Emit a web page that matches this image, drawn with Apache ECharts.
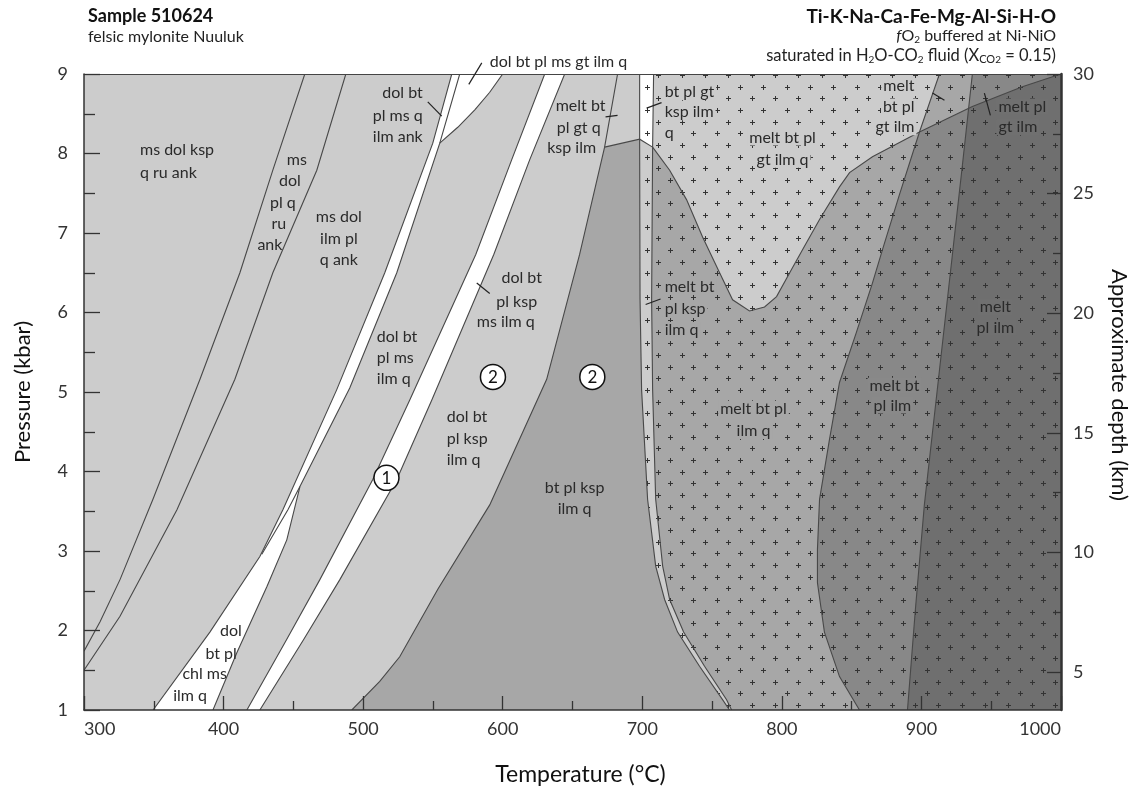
<!DOCTYPE html>
<html>
<head>
<meta charset="utf-8">
<title>Sample 510624 - pseudosection</title>
<script src="https://cdn.jsdelivr.net/npm/echarts@6/dist/echarts.min.js"></script>
<style>
    html, body { margin: 0; padding: 0; background: #fff; }
    #main { width: 1136px; height: 791px; }
</style>
</head>
<body>
<div id="main"></div>
<script>
// boundaries, [temperature °C, pressure kbar]
var kspOut = [[300, 1.74], [311.5, 2.11], [325.8, 2.64], [349.4, 3.65], [383.1, 5.16], [411.7, 6.50], [435.3, 7.79], [458.2, 9]];
var ruOut = [[300, 1.50], [325.8, 2.18], [366.6, 3.52], [408.1, 5.16], [435.3, 6.50], [466.8, 7.79], [487.6, 9]];
var btIn = [[349.5, 1.0], [390.2, 1.98], [426.0, 2.93], [442.5, 3.52], [481.1, 5.03], [515.5, 6.50], [549.9, 8.13], [563.5, 9]];
var chlOut = [[392.4, 1.0], [409.5, 1.72], [431.0, 2.55], [445.3, 3.14], [454.7, 3.81]];
var ankOut = [[427.4, 2.96], [446.1, 3.52], [454.7, 3.81], [490.4, 5.05], [524.1, 6.50], [554.9, 8.13], [569.2, 9]];
var gtTop = [[554.9, 8.13], [567.8, 8.33], [580.0, 8.55], [590.7, 8.77], [600.0, 9]];
var msOutLow = [[416.7, 1.0], [445.3, 1.89], [469.0, 2.64], [506.9, 3.90], [533.4, 4.90], [580.7, 6.73], [606.4, 7.92], [630.1, 9]];
var msOutHigh = [[426.0, 1.0], [457.5, 1.89], [483.3, 2.64], [524.1, 3.90], [549.2, 4.90], [593.6, 6.73], [619.3, 7.92], [644.4, 9]];
var dolOut = [[491.9, 1.0], [511.9, 1.36], [526.2, 1.67], [553.5, 2.52], [590.7, 3.58], [631.5, 5.16], [655.1, 6.73], [673.0, 8.08], [682.3, 9]];
var solidusLow = [[698.1, 9], [698.1, 8.18], [698.4, 6.16], [699.5, 5.03], [703.8, 3.65], [709.6, 2.81], [716.0, 2.39], [725.3, 1.98], [741.0, 1.55], [757.5, 1.13], [762.5, 1.0]];
var solidusHigh = [[708.1, 9], [707.4, 8.08], [706.7, 6.16], [707.4, 5.03], [709.6, 3.65], [714.6, 2.81], [719.6, 2.39], [729.6, 1.98], [744.6, 1.55], [760.4, 1.13], [764.0, 1.0]];
var kspGt = [[707.4, 8.08], [719.6, 7.79], [731.7, 7.42], [743.2, 6.95], [755.4, 6.50], [764.7, 6.16], [776.8, 6.02], [787.6, 6.07], [796.2, 6.20], [806.9, 6.54], [814.8, 6.79], [827.0, 7.17], [841.3, 7.58], [848.5, 7.76], [864.9, 7.96], [898.6, 8.27], [936.5, 8.59], [972.3, 8.84], [1000, 9]];
var qOut = [[855.6, 1.0], [841.3, 1.42], [830.5, 1.98], [825.5, 2.60], [825.5, 3.02], [827.0, 3.65], [834.1, 4.40], [841.3, 5.12], [853.4, 5.75], [864.9, 6.37], [872.1, 6.79], [884.2, 7.48], [898.6, 8.27], [912.9, 9]];
var btOut = [[890.0, 1.0], [895.7, 2.27], [902.1, 3.58], [912.2, 5.16], [922.2, 6.73], [929.4, 7.86], [936.5, 9]];

// right hand axis (approximate depth, km)
var depthTicks = [5, 10, 15, 20, 25, 30];
var depthMinor = [7.5, 12.5, 17.5, 22.5, 27.5];

// field names, label pointers and numbered fields
// (last entry: shade behind the text where the "+" pattern is cleared)
var fieldLabels = [
    ['ms dol ksp', 340.1, 8.05, 'left'], ['q ru ank', 340.1, 7.76, 'left'],
    ['ms', 452.5, 7.92, 'center'], ['dol', 447.5, 7.66, 'center'], ['pl q', 442.5, 7.38, 'center'],
    ['ru', 439.6, 7.12, 'center'], ['ank', 433.2, 6.85, 'center'],
    ['ms dol', 482.6, 7.20, 'center'], ['ilm pl', 482.6, 6.93, 'center'], ['q ank', 482.6, 6.66, 'center'],
    ['dol bt', 542.7, 8.76, 'right'], ['pl ms q', 542.7, 8.47, 'right'], ['ilm ank', 542.7, 8.21, 'right'],
    ['dol bt pl ms gt ilm q', 590.7, 9.15, 'left'],
    ['melt bt', 655.8, 8.60, 'center'], ['pl gt q', 654.4, 8.32, 'center'], ['ksp ilm', 649.4, 8.07, 'center'],
    ['bt pl gt', 714.6, 8.77, 'left', 0], ['ksp ilm', 714.6, 8.52, 'left', 0], ['q', 714.6, 8.26, 'left', 0],
    ['melt bt pl', 800.5, 8.20, 'center', 0], ['gt ilm q', 800.5, 7.92, 'center', 0],
    ['melt', 896.4, 8.85, 'right', 0], ['bt pl', 896.4, 8.59, 'right', 0], ['gt ilm', 896.4, 8.33, 'right', 0],
    ['melt pl', 953.7, 8.59, 'left', 3], ['gt ilm', 953.7, 8.33, 'left', 3],
    ['dol bt', 613.6, 6.44, 'center'], ['pl ksp', 610.0, 6.14, 'center'], ['ms ilm q', 602.2, 5.88, 'center'],
    ['dol bt', 509.8, 5.70, 'left'], ['pl ms', 509.8, 5.43, 'left'], ['ilm q', 509.8, 5.16, 'left'],
    ['dol bt', 559.9, 4.69, 'left'], ['pl ksp', 559.9, 4.41, 'left'], ['ilm q', 559.9, 4.15, 'left'],
    ['bt pl ksp', 651.5, 3.80, 'center'], ['ilm q', 651.5, 3.53, 'center'],
    ['melt bt', 714.6, 6.32, 'left', 1], ['pl ksp', 714.6, 6.05, 'left', 1], ['ilm q', 714.6, 5.78, 'left', 1],
    ['melt bt pl', 779.7, 4.79, 'center', 1], ['ilm q', 779.7, 4.51, 'center', 1],
    ['melt bt', 880.7, 5.08, 'center', 2], ['pl ilm', 879.2, 4.83, 'center', 2],
    ['melt', 953.0, 6.07, 'center', 3], ['pl ilm', 953.0, 5.81, 'center', 3],
    ['dol', 413.1, 1.99, 'right'], ['bt pl', 409.5, 1.71, 'right'], ['chl ms', 402.4, 1.45, 'right'], ['ilm q', 388.1, 1.18, 'right']
];
var pointers = [
    [[546.3, 8.65], [556.3, 8.47]], [[585.0, 9.14], [575.7, 8.87]], [[673.7, 8.46], [682.3, 8.48]],
    [[703.1, 8.57], [713.8, 8.64]], [[581.4, 6.37], [590.7, 6.24]], [[702.4, 6.10], [713.1, 6.17]],
    [[907.9, 8.76], [916.5, 8.67]], [[945.1, 8.76], [949.4, 8.48]]
];
var circled = [['1', 516.7, 3.92], ['2', 593.0, 5.19], ['2', 664.2, 5.19]];

var FONT = 'Lato, "Open Sans", sans-serif';
var SHADE = 'rgba(0,0,0,0.18)';
// light grey, then one, two and three shade overlays
var shades = ['#cccccc', '#a7a7a7', '#898989', '#707070'];

// staggered "+" marks for the melt-bearing fields
function makePlusPattern() {
    var c = document.createElement('canvas');
    c.width = 70;
    c.height = 70;
    var g = c.getContext('2d');
    g.strokeStyle = '#333';
    g.lineWidth = 1;
    for (var row = 0; row < 6; row++) {
        for (var col = 0; col < 3; col++) {
            var cx = Math.round(col * 70 / 3 + (row % 2 ? 35 / 3 : 0)) + 5;
            var cy = Math.round(row * 70 / 6) + 5;
            g.beginPath();
            g.moveTo(cx - 2, cy + 0.5); g.lineTo(cx + 3, cy + 0.5);
            g.moveTo(cx + 0.5, cy - 2); g.lineTo(cx + 0.5, cy + 3);
            g.stroke();
        }
    }
    return c;
}
var plusPattern = makePlusPattern();

function rev(a) { return a.slice().reverse(); }

var fills = [
    { poly: btIn.slice(2).concat(rev(ankOut)), color: '#ffffff' },
    { poly: btIn.slice(0, 4).concat(rev(chlOut)), color: '#ffffff' },
    { poly: gtTop.concat([ankOut[ankOut.length - 1]]), color: '#ffffff' },
    { poly: msOutLow.concat(rev(msOutHigh)), color: '#ffffff' },
    { poly: dolOut.slice(0, 8).concat(solidusLow.slice(1)), color: shades[1] },
    { poly: [solidusLow[0], solidusLow[1], solidusHigh[1], solidusHigh[0]], color: '#ffffff' },
    { poly: kspGt.concat([[1000, 1]], rev(solidusHigh.slice(1))), color: SHADE },
    { poly: qOut.concat([[1000, 9], [1000, 1]]), color: SHADE },
    { poly: btOut.concat([[1000, 9], [1000, 1]]), color: SHADE },
    { poly: solidusLow.concat([[1000, 1], [1000, 9]]), color: { image: plusPattern, repeat: 'repeat' } }
];
var lines = [kspOut, ruOut, btIn, chlOut, ankOut, gtTop, msOutLow, msOutHigh, dolOut,
    [dolOut[7], solidusLow[1], solidusHigh[1]], solidusLow, solidusHigh, kspGt, qOut, btOut];

function toPx(api, list) {
    return list.map(function (p) { return api.coord(p); });
}

var chart = echarts.init(document.getElementById('main'));

var subStyle = { fontSize: 10, fontFamily: FONT, verticalAlign: 'bottom', padding: [8, 0, 0, 0], fill: '#222' };

var option = {
    animation: false,
    backgroundColor: '#fff',
    grid: {
        left: 84, right: 75, top: 74, bottom: 80,
        show: true, backgroundColor: shades[0], borderWidth: 0
    },
    graphic: [
        { type: 'text', left: 88, top: 7, style: { text: 'Sample 510624', font: 'bold 18px ' + FONT, fill: '#111' } },
        { type: 'text', left: 88, top: 29, style: { text: 'felsic mylonite Nuuluk', font: '16px ' + FONT, fill: '#222' } },
        { type: 'text', right: 80, top: 7, style: { text: 'Ti-K-Na-Ca-Fe-Mg-Al-Si-H-O', font: 'bold 19px ' + FONT, fill: '#111' } },
        {
            type: 'text', right: 80, top: 28,
            style: {
                text: '{it|f}O{sub|2} buffered at Ni-NiO', font: '16px ' + FONT, fill: '#222',
                rich: {
                    it: { fontStyle: 'italic', fontSize: 16, fontFamily: FONT, fill: '#222' },
                    sub: subStyle
                }
            }
        },
        {
            type: 'text', right: 80, top: 47,
            style: {
                text: 'saturated in H{sub|2}O-CO{sub|2} fluid (X{sc|CO}{sub|2} = 0.15)', font: '16.5px ' + FONT, fill: '#222',
                rich: {
                    sub: subStyle,
                    sc: { fontSize: 11, fontFamily: FONT, verticalAlign: 'bottom', padding: [4, 0, 0, 0], fill: '#222' }
                }
            }
        },
        {
            type: 'text', x: 1119, y: 385, rotation: -Math.PI / 2,
            style: { text: 'Approximate depth (km)', font: '22px ' + FONT, fill: '#111', align: 'center', verticalAlign: 'middle' }
        }
    ],
    xAxis: [{
        type: 'value', min: 300, max: 1000, interval: 100, z: 10,
        name: 'Temperature (°C)', nameLocation: 'middle', nameGap: 53,
        nameTextStyle: { fontFamily: FONT, fontSize: 23, color: '#111', padding: [0, 0, 0, 16] },
        axisLine: { lineStyle: { color: '#333', width: 1.5 } },
        axisTick: { inside: true, length: 14, lineStyle: { color: '#333', width: 1.3 } },
        minorTick: { show: true, splitNumber: 2, length: 9, lineStyle: { color: '#333', width: 1.3 } },
        axisLabel: {
            fontFamily: FONT, fontSize: 18, color: '#333', margin: 10,
            alignMinLabel: 'left', alignMaxLabel: 'right',
            formatter: function (v) { return String(v); }
        },
        splitLine: { show: false }
    }, {
        type: 'value', position: 'top', min: 300, max: 1000, z: 10,
        axisLine: { lineStyle: { color: '#444', width: 1.2 } },
        axisTick: { show: false }, axisLabel: { show: false }, splitLine: { show: false }
    }],
    yAxis: [{
        type: 'value', min: 1, max: 9, interval: 1, z: 10,
        name: 'Pressure (kbar)', nameLocation: 'middle', nameGap: 50,
        nameTextStyle: { fontFamily: FONT, fontSize: 22, color: '#111' },
        axisLine: { lineStyle: { color: '#333', width: 1.5 } },
        axisTick: { inside: true, length: 16, lineStyle: { color: '#333', width: 1.3 } },
        minorTick: { show: true, splitNumber: 2, length: 11, lineStyle: { color: '#333', width: 1.3 } },
        axisLabel: { fontFamily: FONT, fontSize: 18, color: '#333', margin: 16 },
        splitLine: { show: false }
    }, {
        type: 'value', position: 'right', min: 3.41, max: 30, z: 10,
        axisLine: { show: true, lineStyle: { color: '#333', width: 2.5 } },
        axisTick: { show: true, inside: true, length: 14, customValues: depthTicks, lineStyle: { color: '#333', width: 1.3 } },
        axisLabel: { fontFamily: FONT, fontSize: 18, color: '#333', margin: 12, customValues: depthTicks },
        splitLine: { show: false }
    }, {
        type: 'value', position: 'right', min: 3.41, max: 30, z: 10,
        axisLine: { show: false },
        axisTick: { show: true, inside: true, length: 8, customValues: depthMinor, lineStyle: { color: '#333', width: 1.3 } },
        axisLabel: { show: false },
        splitLine: { show: false }
    }],
    series: [{
        // shaded and blank fields
        type: 'custom', silent: true, clip: true,
        data: fills.map(function (f) { return f.poly[0]; }),
        renderItem: function (params, api) {
            var f = fills[params.dataIndex];
            return { type: 'polygon', shape: { points: toPx(api, f.poly) }, style: { fill: f.color, stroke: null } };
        }
    }, {
        // field boundaries
        type: 'custom', silent: true, clip: true,
        data: lines.map(function (l) { return l[0]; }),
        renderItem: function (params, api) {
            return {
                type: 'polyline', shape: { points: toPx(api, lines[params.dataIndex]) },
                style: { stroke: '#484848', lineWidth: 1.1, fill: null }
            };
        }
    }, {
        // labels, pointers, numbered circles
        type: 'custom', silent: true, clip: false, z: 12,
        data: [[300, 1]],
        renderItem: function (params, api) {
            var children = [];
            pointers.forEach(function (p) {
                children.push({ type: 'polyline', shape: { points: toPx(api, p) }, style: { stroke: '#222', lineWidth: 1.2, fill: null } });
            });
            fieldLabels.forEach(function (l) {
                var c = api.coord([l[1], l[2]]);
                var style = { text: l[0], fill: '#2a2a2a', font: '16px ' + FONT, align: l[3], verticalAlign: 'middle' };
                if (l[4] !== undefined) {
                    style.backgroundColor = shades[l[4]];
                    style.padding = [0, 2];
                }
                children.push({ type: 'text', x: c[0], y: c[1], style: style });
            });
            circled.forEach(function (n) {
                var c = api.coord([n[1], n[2]]);
                children.push({ type: 'circle', shape: { cx: c[0], cy: c[1], r: 12.5 }, style: { fill: '#fff', stroke: '#111', lineWidth: 1.5 } });
                children.push({
                    type: 'text', x: c[0], y: c[1] + 1,
                    style: { text: n[0], fill: '#111', font: '17px ' + FONT, align: 'center', verticalAlign: 'middle' }
                });
            });
            return { type: 'group', children: children };
        }
    }]
};

chart.setOption(option);
</script>
</body>
</html>
